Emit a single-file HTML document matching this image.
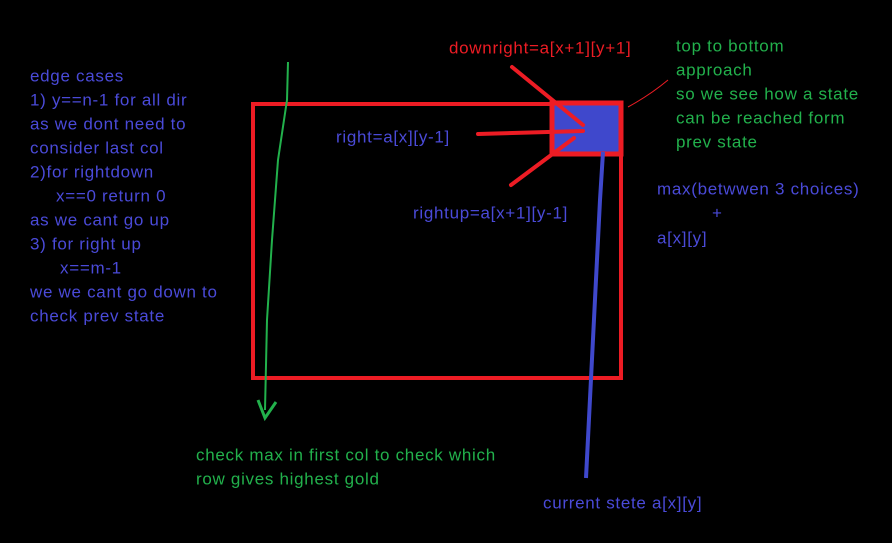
<!DOCTYPE html>
<html><head><meta charset="utf-8"><style>
html,body{margin:0;padding:0;background:#000;}
svg{display:block;}
text{font-family:"Liberation Sans",sans-serif;font-size:17px;letter-spacing:0.7px;dominant-baseline:middle;}
.b{fill:#4a4ad8}.g{fill:#22b14c}.r{fill:#ed1c24}
</style></head><body>
<svg width="892" height="543" viewBox="0 0 892 543">
<rect width="892" height="543" fill="#000"/>
<g>
<text class="b" x="30" y="77">edge cases</text>
<text class="b" x="30" y="101">1) y==n-1 for all dir</text>
<text class="b" x="30" y="125">as we dont need to</text>
<text class="b" x="30" y="149">consider last col</text>
<text class="b" x="30" y="173">2)for rightdown</text>
<text class="b" x="56" y="197">x==0 return 0</text>
<text class="b" x="30" y="221">as we cant go up</text>
<text class="b" x="30" y="245">3) for right up</text>
<text class="b" x="60" y="269">x==m-1</text>
<text class="b" x="30" y="293">we we cant go down to</text>
<text class="b" x="30" y="317">check prev state</text>
</g>
<rect x="253" y="104" width="368" height="274" fill="none" stroke="#ed1c24" stroke-width="4"/>
<rect x="552" y="103" width="69" height="51" fill="#3f48cc" stroke="#ed1c24" stroke-width="5"/>
<g stroke="#ed1c24" stroke-width="4" stroke-linecap="round">
<line x1="512" y1="67" x2="583" y2="125"/>
<line x1="478" y1="134" x2="583" y2="131"/>
<line x1="511" y1="185" x2="574" y2="138"/>
</g>
<polyline points="288,62 287,100 278,160 272,240 267,320 265,410" fill="none" stroke="#22b14c" stroke-width="2"/>
<polyline points="258,400 265,418 276,402" fill="none" stroke="#22b14c" stroke-width="3"/>
<polyline points="603,152 600,200 586,478" fill="none" stroke="#3f48cc" stroke-width="4"/>
<path d="M668,80 Q650,95 628,107" fill="none" stroke="#ed1c24" stroke-width="1"/>
<text class="r" x="449" y="49">downright=a[x+1][y+1]</text>
<text class="b" x="336" y="138">right=a[x][y-1]</text>
<text class="b" x="413" y="214">rightup=a[x+1][y-1]</text>
<g>
<text class="g" x="676" y="47">top to bottom</text>
<text class="g" x="676" y="71">approach</text>
<text class="g" x="676" y="95">so we see how a state</text>
<text class="g" x="676" y="119">can be reached form</text>
<text class="g" x="676" y="143">prev state</text>
</g>
<g>
<text class="b" x="657" y="190">max(betwwen 3 choices)</text>
<text class="b" x="712" y="214">+</text>
<text class="b" x="657" y="239">a[x][y]</text>
</g>
<g>
<text class="g" x="196" y="456">check max in first col to check which</text>
<text class="g" x="196" y="480">row gives highest gold</text>
</g>
<text class="b" x="543" y="504">current stete a[x][y]</text>
</svg>
</body></html>
